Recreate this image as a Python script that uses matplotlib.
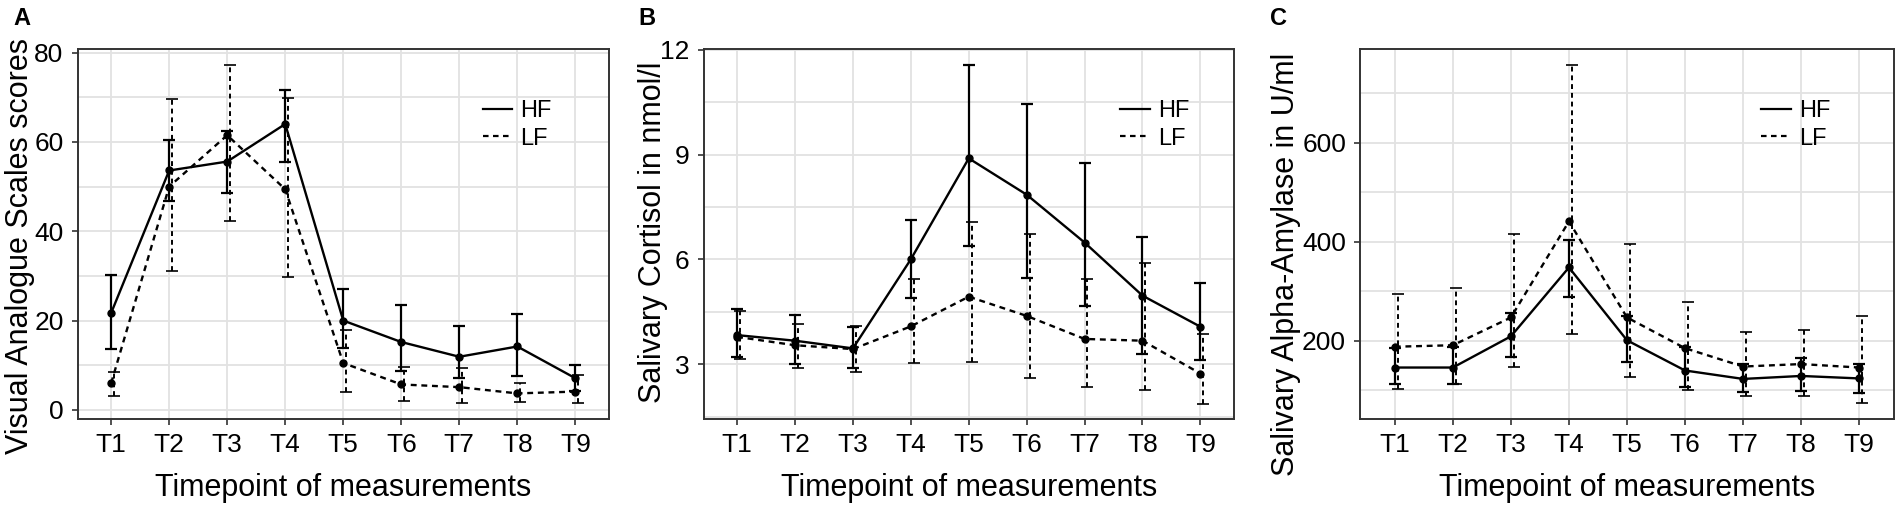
"""Three-panel time course figure (VAS, cortisol, alpha-amylase)"""
import matplotlib.pyplot as plt
from matplotlib.lines import Line2D
import numpy as np

plt.rcParams['font.family'] = ['Liberation Sans', 'DejaVu Sans']

timepoints = ['T1', 'T2', 'T3', 'T4', 'T5', 'T6', 'T7', 'T8', 'T9']

# Panel A: Visual Analogue Scales scores
vas_hf = [21.7, 53.6, 55.6, 64.0, 20.0, 15.2, 11.9, 14.2, 7.1]
vas_hf_hi = [30.2, 60.5, 62.5, 71.6, 27.0, 23.5, 18.7, 21.5, 10.0]
vas_hf_lo = [13.7, 46.8, 48.6, 55.4, 13.8, 8.8, 7.1, 7.6, 4.3]
vas_lf = [6.0, 50.0, 61.5, 49.4, 10.5, 5.7, 5.1, 3.7, 4.1]
vas_lf_hi = [8.4, 69.7, 77.3, 69.8, 17.9, 9.7, 9.3, 6.1, 7.8]
vas_lf_lo = [3.2, 31.2, 42.4, 29.7, 4.0, 2.1, 1.5, 1.7, 1.5]

# Panel B: salivary cortisol (nmol/l)
cort_hf = [3.83, 3.67, 3.45, 6.00, 8.89, 7.85, 6.48, 4.96, 4.07]
cort_hf_hi = [4.59, 4.40, 4.05, 7.13, 11.55, 10.45, 8.76, 6.65, 5.31]
cort_hf_lo = [3.21, 3.00, 2.90, 4.88, 6.39, 5.46, 4.65, 3.30, 3.11]
cort_lf = [3.78, 3.54, 3.43, 4.08, 4.93, 4.38, 3.72, 3.67, 2.73]
cort_lf_hi = [4.53, 4.16, 4.10, 5.44, 7.06, 6.72, 5.44, 5.89, 3.86]
cort_lf_lo = [3.14, 2.90, 2.76, 3.02, 3.07, 2.60, 2.35, 2.25, 1.87]

# Panel C: salivary alpha-amylase (U/ml)
amy_hf = [146, 146, 209, 348, 201, 140, 123, 129, 124]
amy_hf_hi = [185, 187, 256, 403, 250, 187, 154, 166, 153]
amy_hf_lo = [112, 112, 168, 289, 157, 107, 97, 98, 95]
amy_lf = [188, 191, 247, 441, 247, 185, 148, 153, 146]
amy_lf_hi = [294, 306, 416, 756, 395, 279, 217, 222, 250]
amy_lf_lo = [102, 113, 148, 213, 127, 101, 89, 88, 74]

W, H = 1901, 511
TOP, BOTTOM = 49, 419.3
DASH = (0, (2.5, 2))


def draw_panel(ax, hf, hf_lo, hf_hi, lf, lf_lo, lf_hi, ylabel, ylim, major, minor,
               xlim, leg_x, ylab_pos):
    x = np.arange(1, len(timepoints) + 1)
    hf, hf_lo, hf_hi = np.array(hf), np.array(hf_lo), np.array(hf_hi)
    lf, lf_lo, lf_hi = np.array(lf), np.array(lf_lo), np.array(lf_hi)

    ax.errorbar(x, hf, yerr=[hf - hf_lo, hf_hi - hf], fmt='none', ecolor='black',
                elinewidth=1.6, capsize=4.5, capthick=1.6, zorder=3)
    eb = ax.errorbar(x + 0.05, lf, yerr=[lf - lf_lo, lf_hi - lf], fmt='none',
                     ecolor='black', elinewidth=1.4, capsize=4.5, capthick=1.2, zorder=3)
    eb[2][0].set_linestyle(DASH)

    ax.plot(x, hf, color='black', lw=1.7, marker='o', ms=5, zorder=4)
    ax.plot(x, lf, color='black', lw=1.7, ls=DASH, marker='o', ms=5, zorder=4)

    ax.set_xlim(*xlim)
    ax.set_ylim(*ylim)
    ax.set_xticks(x)
    ax.set_xticklabels(timepoints)
    ax.set_yticks(major)
    ax.set_yticks(minor, minor=True)
    ax.grid(which='both', axis='y', color='#e2e2e2', lw=1.3)
    ax.grid(which='major', axis='x', color='#e2e2e2', lw=1.3)
    ax.set_axisbelow(True)

    ax.tick_params(which='major', labelsize=19, length=4, width=1.2,
                   color='#333333', pad=6)
    ax.tick_params(which='minor', length=0)
    for s in ax.spines.values():
        s.set_color('#333333')
        s.set_linewidth(1.4)

    ax.set_xlabel('Timepoint of measurements', fontsize=22)
    ax.xaxis.set_label_coords(0.5, -0.145)
    ax.set_ylabel(ylabel, fontsize=22)
    ax.yaxis.set_label_coords(*ylab_pos)

    handles = [Line2D([], [], color='black', lw=1.6),
               Line2D([], [], color='black', lw=1.6, ls=DASH)]
    ax.legend(handles, ['HF', 'LF'], loc='center left', bbox_to_anchor=(leg_x, 0.7955),
              frameon=False, fontsize=17, handlelength=1.27, handletextpad=0.33,
              borderpad=0, borderaxespad=0, labelspacing=0.25)


def main():
    fig = plt.figure(figsize=(W / 100, H / 100), dpi=100)

    panels = [
        dict(box=(77.5, 609), letter='A', letter_x=13,
             data=(vas_hf, vas_hf_lo, vas_hf_hi, vas_lf, vas_lf_lo, vas_lf_hi),
             ylabel='Visual Analogue Scales scores', ylim=(-2.1, 80.8),
             major=[0, 20, 40, 60, 80], minor=[10, 30, 50, 70],
             xlim=(0.42, 9.58), leg_x=0.762, ylab_pos=(-0.080, 0.467)),
        dict(box=(703.5, 1234), letter='B', letter_x=638,
             data=(cort_hf, cort_hf_lo, cort_hf_hi, cort_lf, cort_lf_lo, cort_lf_hi),
             ylabel='Salivary Cortisol in nmol/l', ylim=(1.42, 12.02),
             major=[3, 6, 9, 12], minor=[1.5, 4.5, 7.5, 10.5],
             xlim=(0.42, 9.58), leg_x=0.785, ylab_pos=(-0.067, 0.505)),
        dict(box=(1360, 1894), letter='C', letter_x=1270,
             data=(amy_hf, amy_hf_lo, amy_hf_hi, amy_lf, amy_lf_lo, amy_lf_hi),
             ylabel='Salivary Alpha-Amylase in U/ml', ylim=(41.5, 789),
             major=[200, 400, 600], minor=[100, 300, 500, 700],
             xlim=(0.4, 9.6), leg_x=0.751, ylab_pos=(-0.1096, 0.418)),
    ]

    for p in panels:
        l, r = p['box']
        ax = fig.add_axes([l / W, 1 - BOTTOM / H, (r - l) / W, (BOTTOM - TOP) / H])
        draw_panel(ax, *p['data'], p['ylabel'], p['ylim'], p['major'], p['minor'],
                   p['xlim'], p['leg_x'], p['ylab_pos'])
        fig.text(p['letter_x'] / W, 1 - 25 / H, p['letter'], fontsize=17,
                 fontweight='bold', va='baseline', ha='left')

    fig.savefig('out.png', dpi=100)
    plt.close(fig)


if __name__ == "__main__":
    main()
